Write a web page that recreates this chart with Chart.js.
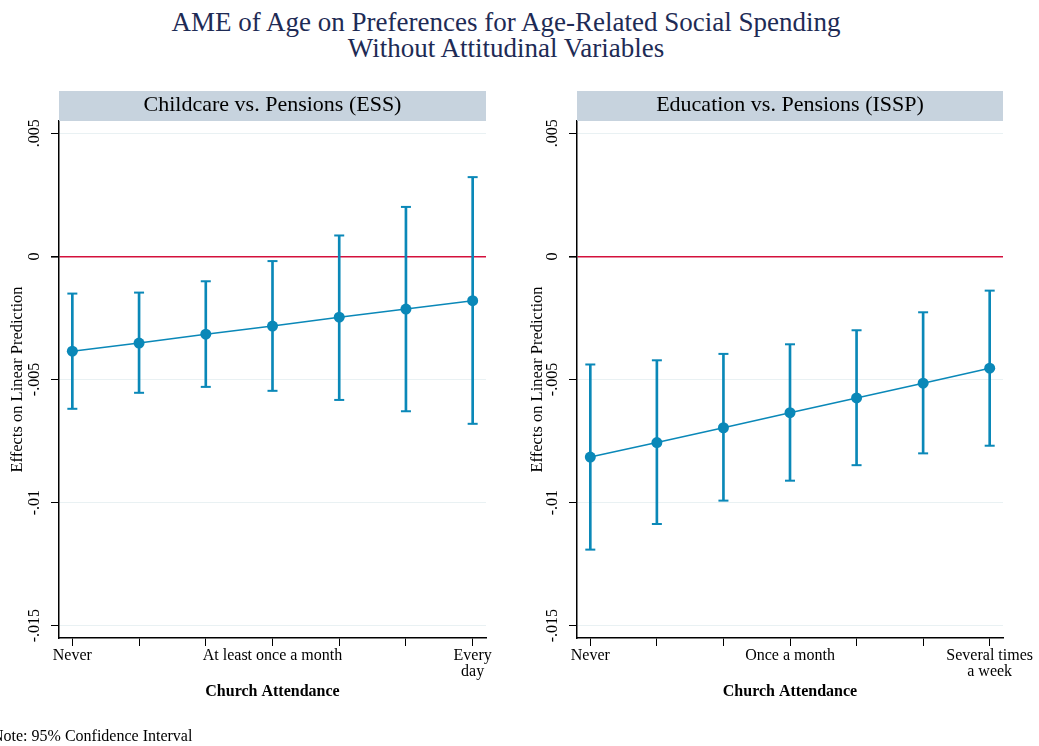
<!DOCTYPE html>
<html>
<head>
<meta charset="utf-8">
<script src="https://cdn.jsdelivr.net/npm/chart.js@4.4.0/dist/chart.umd.min.js"></script>
<style>
  body { margin: 0; background: #fff; width: 1039px; height: 746px; position: relative; overflow: hidden; font-family: "Liberation Serif", "Times New Roman", serif; }
  #title { position: absolute; top: 9px; left: 0; width: 1012px; text-align: center; color: #1e2b55; font-size: 27px; line-height: 26px; }
  .panel { position: absolute; top: 0; }
  #note { position: absolute; left: -8px; top: 727px; font-size: 16px; color: #000; white-space: nowrap; }
</style>
</head>
<body>
<div id="title">AME of Age on Preferences for Age-Related Social Spending<br>Without Attitudinal Variables</div>
<canvas id="essChart" class="panel" width="520" height="746" style="left:0"></canvas>
<canvas id="isspChart" class="panel" width="519" height="746" style="left:520px"></canvas>
<div id="note">Note: 95% Confidence Interval</div>

<script>
// categories (church attendance levels, 1..7)
const xPositions = [1, 2, 3, 4, 5, 6, 7];
const essLabels = ['Never', '', '', 'At least once a month', '', '', ['Every', 'day']];
const isspLabels = ['Never', '', '', 'Once a month', '', '', ['Several times', 'a week']];

// Childcare vs. Pensions (ESS)
const essEffect = [-0.00385, -0.00352, -0.00316, -0.00283, -0.00247, -0.00214, -0.00180];
const essLower  = [-0.00619, -0.00554, -0.00530, -0.00546, -0.00583, -0.00629, -0.00680];
const essUpper  = [-0.00151, -0.00147, -0.00101, -0.00019, 0.00085, 0.00201, 0.00322];

// Education vs. Pensions (ISSP)
const isspEffect = [-0.00815, -0.00756, -0.00696, -0.00635, -0.00575, -0.00515, -0.00454];
const isspLower  = [-0.01191, -0.01087, -0.00992, -0.00911, -0.00848, -0.00800, -0.00769];
const isspUpper  = [-0.00439, -0.00422, -0.00396, -0.00357, -0.00300, -0.00227, -0.00139];

// y axis ticks
const yTickValues = [-0.015, -0.01, -0.005, 0, 0.005];
const yTickLabels = ['-.015', '-.01', '-.005', '0', '.005'];

const BLUE = '#0a88b8';
const RED = '#d4103c';
const GRID = '#e9f1f3';
const FONT = '"Liberation Serif", "Times New Roman", serif';

// grey strip with panel name above the plot area
const headerPlugin = {
    id: 'header',
    afterDraw(chart, args, opts) {
        const { ctx, chartArea } = chart;
        ctx.save();
        ctx.fillStyle = '#c7d3de';
        ctx.fillRect(chartArea.left, 91, chartArea.right - chartArea.left, chartArea.top - 91);
        ctx.fillStyle = '#000';
        ctx.font = '22px ' + FONT;
        ctx.textAlign = 'center';
        ctx.textBaseline = 'middle';
        ctx.fillText(opts.text, (chartArea.left + chartArea.right) / 2, 105);
        ctx.restore();
    }
};

function makePanel(id, header, xLabels, effect, lower, upper, axisWidth, padRight) {
    const bars = xPositions.map((x, i) => ({ x: x, y: [lower[i], upper[i]] }));
    const caps = xPositions.map((x, i) => ({ x: x, y: lower[i] }))
        .concat(xPositions.map((x, i) => ({ x: x, y: upper[i] })));
    const points = xPositions.map((x, i) => ({ x: x, y: effect[i] }));

    new Chart(document.getElementById(id), {
        type: 'line',
        data: {
            datasets: [
                {
                    type: 'bar',
                    data: bars,
                    backgroundColor: BLUE,
                    barThickness: 2,
                    order: 3
                },
                {
                    type: 'line',
                    data: caps,
                    showLine: false,
                    pointStyle: 'line',
                    pointRadius: 5,
                    pointBorderWidth: 2,
                    pointBorderColor: BLUE,
                    order: 2
                },
                {
                    type: 'line',
                    data: points,
                    borderColor: BLUE,
                    borderWidth: 1.5,
                    pointRadius: 5.5,
                    pointBackgroundColor: BLUE,
                    pointBorderWidth: 0,
                    order: 1
                }
            ]
        },
        options: {
            responsive: false,
            animation: false,
            layout: { padding: { left: 0, right: padRight, top: 121, bottom: 38 } },
            plugins: {
                legend: { display: false },
                tooltip: { enabled: false },
                header: { text: header }
            },
            scales: {
                x: {
                    type: 'linear',
                    min: 0.8,
                    max: 7.2,
                    offset: false,
                    afterBuildTicks: s => { s.ticks = xPositions.map(v => ({ value: v })); },
                    afterFit: s => { s.height = 70; },
                    ticks: {
                        autoSkip: false,
                        minRotation: 0,
                        maxRotation: 0,
                        padding: 2,
                        color: '#000',
                        font: { family: FONT, size: 16, lineHeight: 1.0 },
                        callback: (v, i) => xLabels[i]
                    },
                    grid: { offset: false, drawOnChartArea: false, color: '#000', tickLength: 8 },
                    border: { color: '#000', width: 1.5 },
                    title: {
                        display: true,
                        text: 'Church Attendance',
                        color: '#000',
                        font: { family: FONT, size: 16, weight: 'bold' },
                        padding: { top: 0, bottom: 7 }
                    }
                },
                y: {
                    min: -0.0155,
                    max: 0.0055,
                    afterBuildTicks: s => { s.ticks = yTickValues.map(v => ({ value: v })); },
                    afterFit: s => { s.width = axisWidth; },
                    ticks: {
                        minRotation: 90,
                        maxRotation: 90,
                        crossAlign: 'center',
                        padding: 0,
                        color: '#000',
                        font: { family: FONT, size: 16 },
                        callback: (v, i) => yTickLabels[i]
                    },
                    grid: {
                        color: c => (c.tick && c.tick.value === 0) ? RED : GRID,
                        lineWidth: c => (c.tick && c.tick.value === 0) ? 1.6 : 1,
                        tickColor: '#000',
                        tickLength: 8
                    },
                    border: { color: '#000', width: 1.5 },
                    title: {
                        display: true,
                        text: 'Effects on Linear Prediction',
                        color: '#000',
                        font: { family: FONT, size: 16.5 },
                        padding: { top: 8, bottom: 0 }
                    }
                }
            }
        },
        plugins: [headerPlugin]
    });
}

makePanel('essChart', 'Childcare vs. Pensions (ESS)', essLabels, essEffect, essLower, essUpper, 59, 34);
makePanel('isspChart', 'Education vs. Pensions (ISSP)', isspLabels, isspEffect, isspLower, isspUpper, 57, 36);
</script>
</body>
</html>
